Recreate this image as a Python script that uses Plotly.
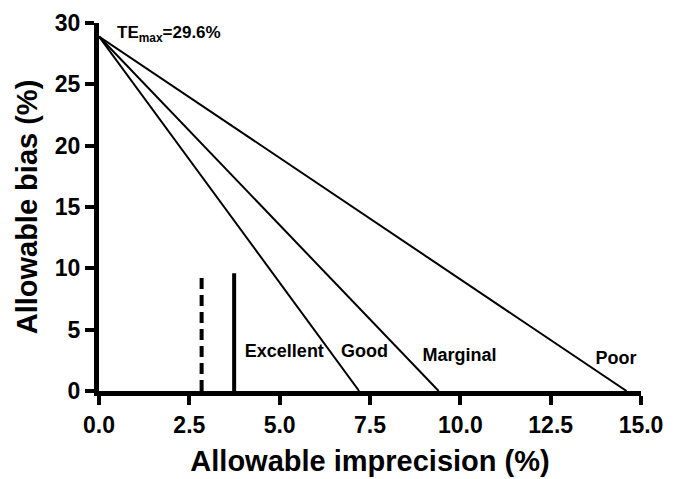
import plotly.graph_objects as go

# Data
te_start = 28.9            # allowable bias at zero imprecision (line origin)
zone_intercepts = [7.2, 9.4, 14.6]   # x where each boundary line reaches 0 bias
zone_labels = ["Excellent", "Good", "Marginal", "Poor"]
zone_label_x = [5.13, 7.35, 9.98, 14.31]
zone_label_y = [3.15, 3.1, 2.8, 2.6]
dashed_x = 2.84
solid_x = 3.74
vline_top = 9.6

x_ticks = [0.0, 2.5, 5.0, 7.5, 10.0, 12.5, 15.0]
y_ticks = [0, 5, 10, 15, 20, 25, 30]

FONT = "Liberation Sans, Arial"

fig = go.Figure()
for xi in zone_intercepts:
    fig.add_trace(go.Scatter(x=[0, xi], y=[te_start, 0], mode="lines",
                             line=dict(color="black", width=2), showlegend=False))

fig.add_trace(go.Scatter(x=[dashed_x, dashed_x], y=[0, vline_top], mode="lines",
                         line=dict(color="black", width=4, dash="11px,6px"), showlegend=False))
fig.add_trace(go.Scatter(x=[solid_x, solid_x], y=[0, vline_top], mode="lines",
                         line=dict(color="black", width=4), showlegend=False))

fig.add_trace(go.Scatter(x=zone_label_x, y=zone_label_y, mode="text",
                         text=[f"<b>{t}</b>" for t in zone_labels],
                         textfont=dict(family=FONT, size=18, color="black"),
                         textposition="middle center", showlegend=False))

fig.add_annotation(x=0.44, y=29.1, xanchor="left", yanchor="middle", showarrow=False,
                   text="<b>TE<sub>max</sub>=29.6%</b>",
                   font=dict(family=FONT, size=17, color="black"))

axis_font = dict(family=FONT, size=23, color="black")
fig.update_xaxes(range=[0, 15], tickvals=x_ticks, ticktext=[f"<b>{v:.1f}</b>" for v in x_ticks],
                 showgrid=False, zeroline=False, showline=True, linecolor="black", linewidth=5,
                 ticks="outside", ticklen=9, tickwidth=4, tickcolor="black",
                 tickfont=axis_font, automargin=False,
                 title=dict(text="<b>Allowable imprecision (%)</b>",
                            font=dict(family=FONT, size=29, color="black"),
                            standoff=16))
fig.update_yaxes(range=[0, 30], tickvals=y_ticks, ticktext=[f"<b>{v}</b>" for v in y_ticks],
                 showgrid=False, zeroline=False, showline=True, linecolor="black", linewidth=5,
                 ticks="outside", ticklen=9, tickwidth=4, tickcolor="black",
                 tickfont=axis_font, automargin=False,
                 title=dict(text="<b>Allowable bias (%)</b>",
                            font=dict(family=FONT, size=29, color="black"),
                            standoff=10))

fig.update_layout(width=678, height=479, margin=dict(l=99, r=37, t=23, b=88),
                  plot_bgcolor="white", paper_bgcolor="white",
                  font=dict(family=FONT, color="black"))

fig.write_html("out.html")
